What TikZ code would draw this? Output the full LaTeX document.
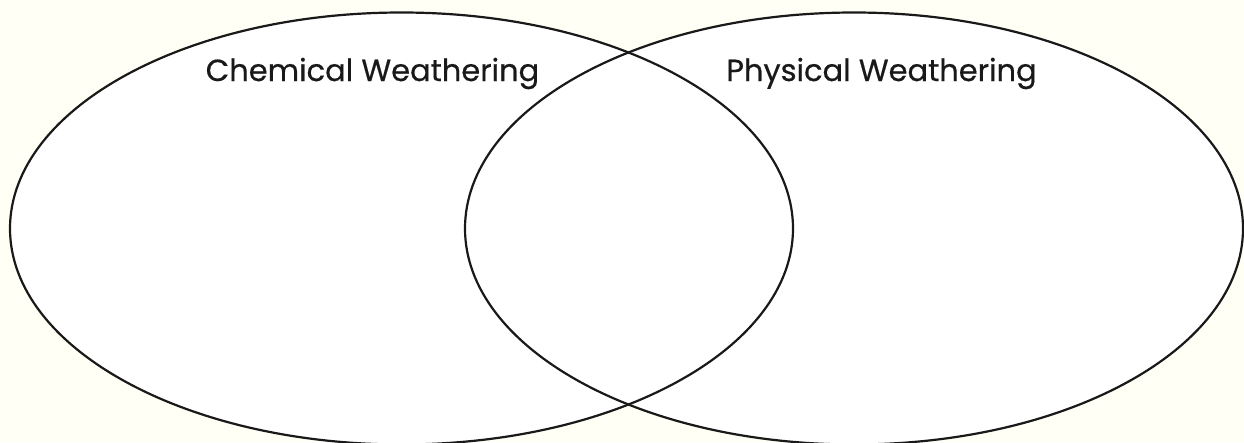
\documentclass[tikz,border=0pt]{standalone}
\usepackage{fontspec}
\setmainfont{Poppins}
\newfontfamily\lblfont{Poppins}[FakeBold=0.5]
\usepackage{tikz}
\usetikzlibrary{shapes.geometric, positioning}
\definecolor{cream}{HTML}{FFFFF5}

\begin{document}
\begin{tikzpicture}[x=1pt, y=-1pt,
    set/.style={ellipse, fill=white, inner sep=0pt, outer sep=0pt},
    rim/.style={draw=black!90, line width=2.2pt},
    lbl/.style={font=\lblfont\fontsize{30.5}{33}\selectfont, text=black!90, anchor=base}]
    \fill[cream] (0,0) rectangle (1244,442);
    \useasboundingbox (0,0) rectangle (1244,442);
    % the two sets, filled first so that both rims stay visible
    \node[set, minimum width=783pt, minimum height=432pt] (chem) at (401.5,228.5) {};
    \node[set, minimum width=778pt, minimum height=432pt] (phys) at (854,228.5) {};
    \draw[rim] (chem.center) ellipse [x radius=391.5, y radius=216];
    \draw[rim] (phys.center) ellipse [x radius=389, y radius=216];
    \node[lbl] (chemlbl) at (372.5,81) {Chemical Weathering};
    \node[lbl] (physlbl) at (881.5,81) {Physical Weathering};
\end{tikzpicture}
\end{document}
